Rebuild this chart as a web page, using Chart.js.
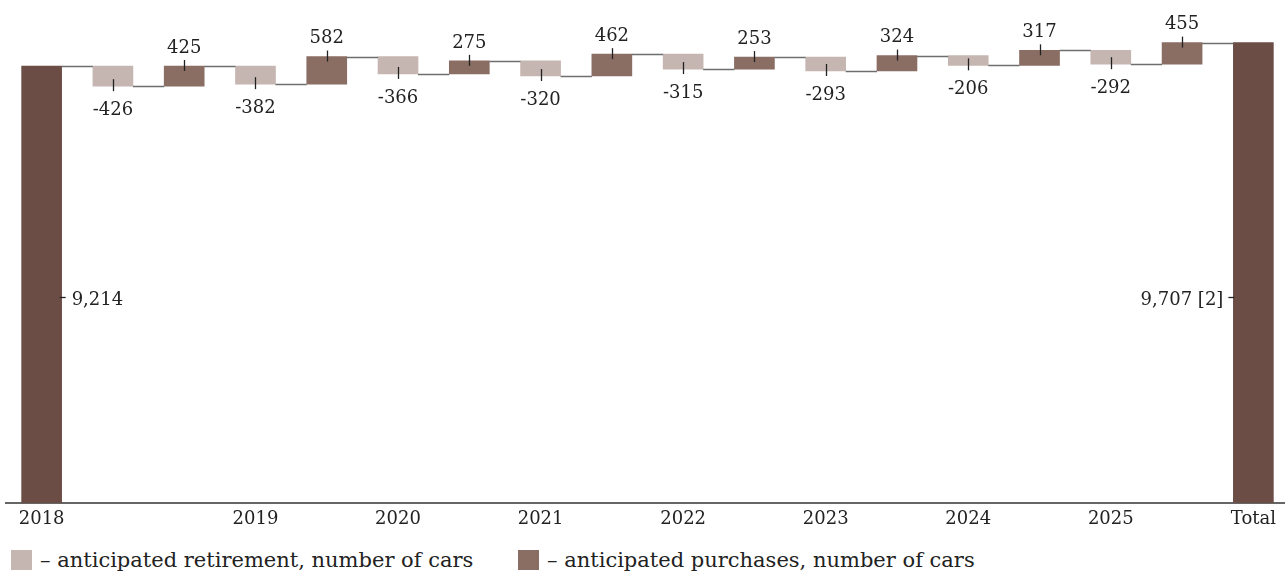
<!DOCTYPE html>
<html lang="en">
<head>
  <meta charset="UTF-8" />
  <title>Fleet waterfall</title>
  <script src="https://cdn.jsdelivr.net/npm/chart.js"></script>
  <style>
    html, body { margin: 0; padding: 0; background: #fff; overflow: hidden; }
    body { width: 1285px; height: 574px; position: relative; font-family: "DejaVu Serif", serif; color: #222; }
    #chart { position: absolute; left: 0; top: 0; }
    .legend-item { position: absolute; top: 548px; display: flex; align-items: center; font-size: 21px; white-space: nowrap; }
    .legend-item span.box { display: inline-block; width: 21px; height: 20px; margin-right: 8px; }
  </style>
</head>
<body>
  <canvas id="chart" width="1289" height="535"></canvas>
  <div class="legend-item" style="left:11px"><span class="box" style="background:#c6b6b1"></span>– anticipated retirement, number of cars</div>
  <div class="legend-item" style="left:518px"><span class="box" style="background:#8a6d63"></span>– anticipated purchases, number of cars</div>

  <script>
    // tick labels, one per bar slot (pairs: retirement, purchase)
    const categories = ['2018', '', '', '2019', '', '2020', '', '2021', '', '2022', '', '2023', '', '2024', '', '2025', '', 'Total'];
    const startValue = 9214;
    const retirement = [-426, -382, -366, -320, -315, -293, -206, -292];
    const purchases = [425, 582, 275, 462, 253, 324, 317, 455];
    const totalValue = 9707;
    const totalNote = ' [2]';

    const COLOR_BASE = '#6b4d46';
    const COLOR_BUY = '#8a6d63';
    const COLOR_RETIRE = '#c6b6b1';
    const FONT = '"DejaVu Serif", serif';

    // build floating bars
    const bars = [];   // [low, high]
    const kinds = [];  // 'base' | 'ret' | 'buy' | 'total'
    const values = [];
    const levels = []; // running total after each bar
    let run = startValue;
    bars.push([0, startValue]); kinds.push('base'); values.push(startValue); levels.push(run);
    retirement.forEach((r, i) => {
      bars.push([run + r, run]); kinds.push('ret'); values.push(r); run += r; levels.push(run);
      const p = purchases[i];
      bars.push([run, run + p]); kinds.push('buy'); values.push(p); run += p; levels.push(run);
    });
    bars.push([0, totalValue]); kinds.push('total'); values.push(totalValue); levels.push(totalValue);

    const colors = kinds.map(k => k === 'ret' ? COLOR_RETIRE : (k === 'buy' ? COLOR_BUY : COLOR_BASE));

    const fmt = v => v.toLocaleString('en-US');

    const waterfallExtras = {
      id: 'waterfallExtras',
      afterDatasetsDraw(chart) {
        const ctx = chart.ctx;
        const meta = chart.getDatasetMeta(0);
        const y = chart.scales.y;
        ctx.save();

        // connectors
        ctx.strokeStyle = '#6e6e6e';
        ctx.lineWidth = 1.5;
        for (let i = 0; i < meta.data.length - 1; i++) {
          const a = meta.data[i], b = meta.data[i + 1];
          const py = Math.round(y.getPixelForValue(levels[i])) + 0.5;
          ctx.beginPath();
          ctx.moveTo(a.x + a.width / 2, py);
          ctx.lineTo(b.x - b.width / 2, py);
          ctx.stroke();
        }

        // value labels with little leader ticks
        ctx.fillStyle = '#222';
        ctx.strokeStyle = '#222';
        ctx.lineWidth = 1.3;
        ctx.font = '18px ' + FONT;
        const sideY = Math.round(y.getPixelForValue(4340)) + 0.5;
        meta.data.forEach((el, i) => {
          const k = kinds[i];
          const x = Math.round(el.x) + 0.5;
          const top = Math.min(el.y, el.base);
          const bottom = Math.max(el.y, el.base);
          if (k === 'ret') {
            ctx.beginPath(); ctx.moveTo(x, bottom - 7); ctx.lineTo(x, bottom + 5); ctx.stroke();
            ctx.textAlign = 'center'; ctx.textBaseline = 'middle';
            ctx.fillText(fmt(values[i]), el.x, bottom + 24);
          } else if (k === 'buy') {
            ctx.beginPath(); ctx.moveTo(x, top - 6); ctx.lineTo(x, top + 5); ctx.stroke();
            ctx.textAlign = 'center'; ctx.textBaseline = 'middle';
            ctx.fillText(fmt(values[i]), el.x, top - 18);
          } else {
            ctx.textBaseline = 'middle';
            if (k === 'base') {
              const ex = el.x + el.width / 2;
              ctx.beginPath(); ctx.moveTo(ex - 2, sideY); ctx.lineTo(ex + 4, sideY); ctx.stroke();
              ctx.textAlign = 'left';
              ctx.fillText(fmt(values[i]), ex + 10, sideY + 3);
            } else {
              const ex = el.x - el.width / 2;
              ctx.beginPath(); ctx.moveTo(ex - 5, sideY); ctx.lineTo(ex + 1, sideY); ctx.stroke();
              ctx.textAlign = 'right';
              ctx.fillText(fmt(values[i]) + totalNote, ex - 10, sideY + 3);
            }
          }
        });
        ctx.restore();
      }
    };

    new Chart(document.getElementById('chart'), {
      type: 'bar',
      data: {
        labels: categories,
        datasets: [{
          data: bars,
          backgroundColor: colors,
          borderWidth: 0,
          barThickness: 40
        }]
      },
      options: {
        responsive: false,
        animation: false,
        layout: { padding: { left: 6, right: 0, top: 28.7, bottom: 0 } },
        plugins: { legend: { display: false }, tooltip: { enabled: false } },
        scales: {
          y: { display: false, min: 0, max: 10000 },
          x: {
            grid: { display: false, drawTicks: false },
            border: { display: true, color: '#666', width: 2 },
            ticks: {
              autoSkip: false, maxRotation: 0, padding: 6,
              color: '#222', font: { family: FONT, size: 18 }
            },
            afterFit(scale) { scale.height = 32; }
          }
        }
      },
      plugins: [waterfallExtras]
    });
  </script>
</body>
</html>
